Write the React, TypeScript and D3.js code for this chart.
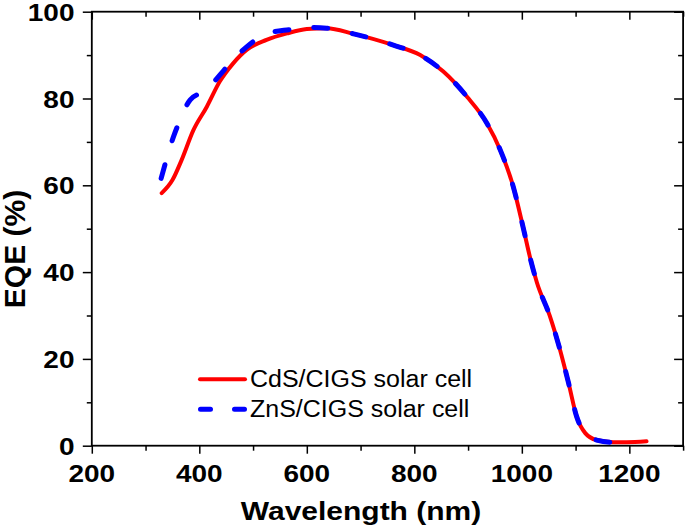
import * as d3 from "d3";
import { useEffect, useRef } from "react";

// CdS/CIGS (solid red)
const cdsWavelength = [330, 350, 367, 389, 414, 438, 463, 488, 525, 563, 600, 637, 687, 761, 811, 854, 898, 935, 960, 984, 1003, 1016, 1028, 1052, 1071, 1087, 1102, 1118, 1139, 1170, 1195, 1232];
const cdsEqe = [58.2, 61.2, 65.8, 72.7, 78.1, 83.9, 88.1, 91.2, 93.5, 95.0, 96.0, 96.2, 94.9, 92.3, 90.0, 86.2, 80.4, 74.3, 68.1, 59.7, 50.0, 43.0, 37.6, 29.9, 22.1, 14.4, 6.7, 2.9, 1.3, 0.8, 0.8, 1.0];

// ZnS/CIGS (dashed blue)
const znsWavelength = [329, 352, 364, 383, 414, 438, 457, 488, 525, 569, 600, 637, 687, 761, 811, 854, 898, 935, 960, 984, 1003, 1016, 1028, 1052, 1071, 1087, 1102, 1118, 1139, 1170, 1195];
const znsEqe = [61.6, 71.2, 75.0, 79.7, 82.0, 85.4, 88.1, 91.9, 94.9, 95.9, 96.4, 96.2, 94.9, 92.3, 90.0, 86.2, 80.4, 74.3, 68.1, 59.7, 50.0, 43.0, 37.6, 29.9, 22.1, 14.4, 6.7, 2.9, 1.3, 0.8, 0.8];

const xTicks = [200, 400, 600, 800, 1000, 1200];
const xMinorTicks = [300, 500, 700, 900, 1100, 1300];
const yTicks = [0, 20, 40, 60, 80, 100];
const yMinorTicks = [10, 30, 50, 70, 90];

const seriesNames = ["CdS/CIGS solar cell", "ZnS/CIGS solar cell"];

const FONT = "'Liberation Sans', Arial, sans-serif";

const EqeChart = () => {
  const ref = useRef<SVGSVGElement>(null);

  useEffect(() => {
    const svg = d3.select(ref.current);
    const width = 685;
    const height = 528;
    const left = 91.8;
    const right = 683.1;
    const top = 11.7;
    const bottom = 445.7;

    svg.attr("width", width).attr("height", height);

    const x = d3.scaleLinear().domain([200, 1300]).range([left, right]);
    const y = d3.scaleLinear().domain([0, 100]).range([bottom, top]);

    const styleAxis = (g: any) => {
      g.select(".domain").remove();
      g.selectAll("line").attr("stroke", "#000").attr("stroke-width", 1.5);
      g.selectAll("text").remove();
    };

    // outward ticks (bottom / left)
    svg.append("g").attr("transform", `translate(0,${bottom})`)
      .call(d3.axisBottom(x).tickValues(xTicks).tickSize(8).tickFormat(() => "")).call(styleAxis);
    svg.append("g").attr("transform", `translate(0,${bottom})`)
      .call(d3.axisBottom(x).tickValues(xMinorTicks).tickSize(5).tickFormat(() => "")).call(styleAxis);
    svg.append("g").attr("transform", `translate(${left},0)`)
      .call(d3.axisLeft(y).tickValues(yTicks).tickSize(9).tickFormat(() => "")).call(styleAxis);
    svg.append("g").attr("transform", `translate(${left},0)`)
      .call(d3.axisLeft(y).tickValues(yMinorTicks).tickSize(5).tickFormat(() => "")).call(styleAxis);

    // inward ticks (top / right)
    svg.append("g").attr("transform", `translate(0,${top})`)
      .call(d3.axisTop(x).tickValues(xTicks).tickSize(-8).tickFormat(() => "")).call(styleAxis);
    svg.append("g").attr("transform", `translate(0,${top})`)
      .call(d3.axisTop(x).tickValues(xMinorTicks).tickSize(-5).tickFormat(() => "")).call(styleAxis);
    svg.append("g").attr("transform", `translate(${right},0)`)
      .call(d3.axisRight(y).tickValues(yTicks).tickSize(-9).tickFormat(() => "")).call(styleAxis);
    svg.append("g").attr("transform", `translate(${right},0)`)
      .call(d3.axisRight(y).tickValues(yMinorTicks).tickSize(-5).tickFormat(() => "")).call(styleAxis);

    svg.append("rect")
      .attr("x", left).attr("y", top)
      .attr("width", right - left).attr("height", bottom - top)
      .attr("fill", "none").attr("stroke", "#000").attr("stroke-width", 1.8);

    // tick labels
    svg.append("g").selectAll("text").data(xTicks).join("text")
      .attr("transform", (d) => `translate(${x(d)},481.5) scale(1,0.88)`)
      .attr("text-anchor", "middle")
      .attr("font-family", FONT).attr("font-weight", "bold").attr("font-size", 28)
      .text((d) => d);
    svg.append("g").selectAll("text").data(yTicks).join("text")
      .attr("transform", (d) => `translate(74.5,${y(d) + 9}) scale(1,0.88)`)
      .attr("text-anchor", "end")
      .attr("font-family", FONT).attr("font-weight", "bold").attr("font-size", 28)
      .text((d) => d);

    // axis titles
    svg.append("text")
      .attr("transform", "translate(361,520) scale(1,0.86)")
      .attr("text-anchor", "middle")
      .attr("font-family", FONT).attr("font-weight", "bold").attr("font-size", 30)
      .text("Wavelength (nm)");
    svg.append("text")
      .attr("transform", "translate(24.5,249) rotate(-90)")
      .attr("text-anchor", "middle")
      .attr("font-family", FONT).attr("font-weight", "bold").attr("font-size", 30)
      .text("EQE (%)");

    const line = d3.line<[number, number]>()
      .x((d) => x(d[0]))
      .y((d) => y(d[1]))
      .curve(d3.curveMonotoneX);

    const cds = cdsWavelength.map((w, i) => [w, cdsEqe[i]] as [number, number]);
    const zns = znsWavelength.map((w, i) => [w, znsEqe[i]] as [number, number]);

    svg.append("path").attr("d", line(cds))
      .attr("fill", "none").attr("stroke", "#FF0000").attr("stroke-width", 4)
      .attr("stroke-linecap", "round").attr("stroke-linejoin", "round");
    svg.append("path").attr("d", line(zns))
      .attr("fill", "none").attr("stroke", "#0000FF").attr("stroke-width", 5)
      .attr("stroke-dasharray", "14,25")
      .attr("stroke-linecap", "round").attr("stroke-linejoin", "round");

    // legend
    const legend = svg.append("g");
    legend.append("line")
      .attr("x1", 200).attr("x2", 245).attr("y1", 379.3).attr("y2", 379.3)
      .attr("stroke", "#FF0000").attr("stroke-width", 4).attr("stroke-linecap", "round");
    legend.append("line")
      .attr("x1", 200.5).attr("x2", 244.5).attr("y1", 409.3).attr("y2", 409.3)
      .attr("stroke", "#0000FF").attr("stroke-width", 5).attr("stroke-linecap", "round")
      .attr("stroke-dasharray", "10,24");
    legend.selectAll("text").data(seriesNames).join("text")
      .attr("transform", (_, i) => `translate(250,${386.7 + i * 30}) scale(1,0.93)`)
      .attr("font-family", FONT).attr("font-size", 25).attr("fill", "#000")
      .text((d) => d);

    return () => {
      svg.selectAll("*").remove();
    };
  }, []);

  return <svg ref={ref} style={{ position: "absolute", left: 0, top: 0, background: "#fff" }}></svg>;
};

export default function App() {
  return <EqeChart />;
}
